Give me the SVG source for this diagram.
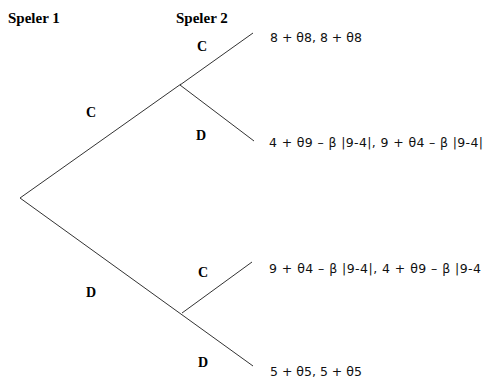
<svg xmlns="http://www.w3.org/2000/svg" width="485" height="384" viewBox="0 0 485 384">
<style>
.h{font-family:"Liberation Serif",serif;font-weight:bold;font-size:15px;fill:#000}
.l{font-family:"Liberation Serif",serif;font-weight:bold;font-size:14px;fill:#000;text-anchor:middle}
.p{font-family:"DejaVu Sans",sans-serif;font-size:12.5px;fill:#111}
.e{stroke:#333;stroke-width:1;fill:none}
</style>
<rect width="485" height="384" fill="#fff"/>
<g id="headers">
<text class="h" x="8" y="23">Speler 1</text>
<text class="h" x="176" y="23">Speler 2</text>
</g>
<g id="connectors">
<line class="e" x1="20" y1="198" x2="181" y2="84"/>
<line class="e" x1="20" y1="198" x2="253" y2="366"/>
<line class="e" x1="180" y1="85" x2="253" y2="33"/>
<line class="e" x1="180" y1="85" x2="254" y2="141"/>
<line class="e" x1="182" y1="313" x2="252" y2="262"/>
</g>
<g id="edge-labels">
<text class="l" x="91" y="117">C</text>
<text class="l" x="91" y="297">D</text>
<text class="l" x="202" y="51">C</text>
<text class="l" x="201" y="140">D</text>
<text class="l" x="203" y="277">C</text>
<text class="l" x="203" y="367">D</text>
</g>
<g id="payoff-CC"><text class="p" x="270" y="42">8 + θ8, 8 + θ8</text></g>
<g id="payoff-CD"><text class="p" x="269" y="147" textLength="214">4 + θ9 – β |9-4|, 9 + θ4 – β |9-4|</text></g>
<g id="payoff-DC"><text class="p" x="269" y="273" textLength="212">9 + θ4 – β |9-4|,  4 + θ9 – β |9-4</text></g>
<g id="payoff-DD"><text class="p" x="270" y="376">5 + θ5, 5 + θ5</text></g>
</svg>
